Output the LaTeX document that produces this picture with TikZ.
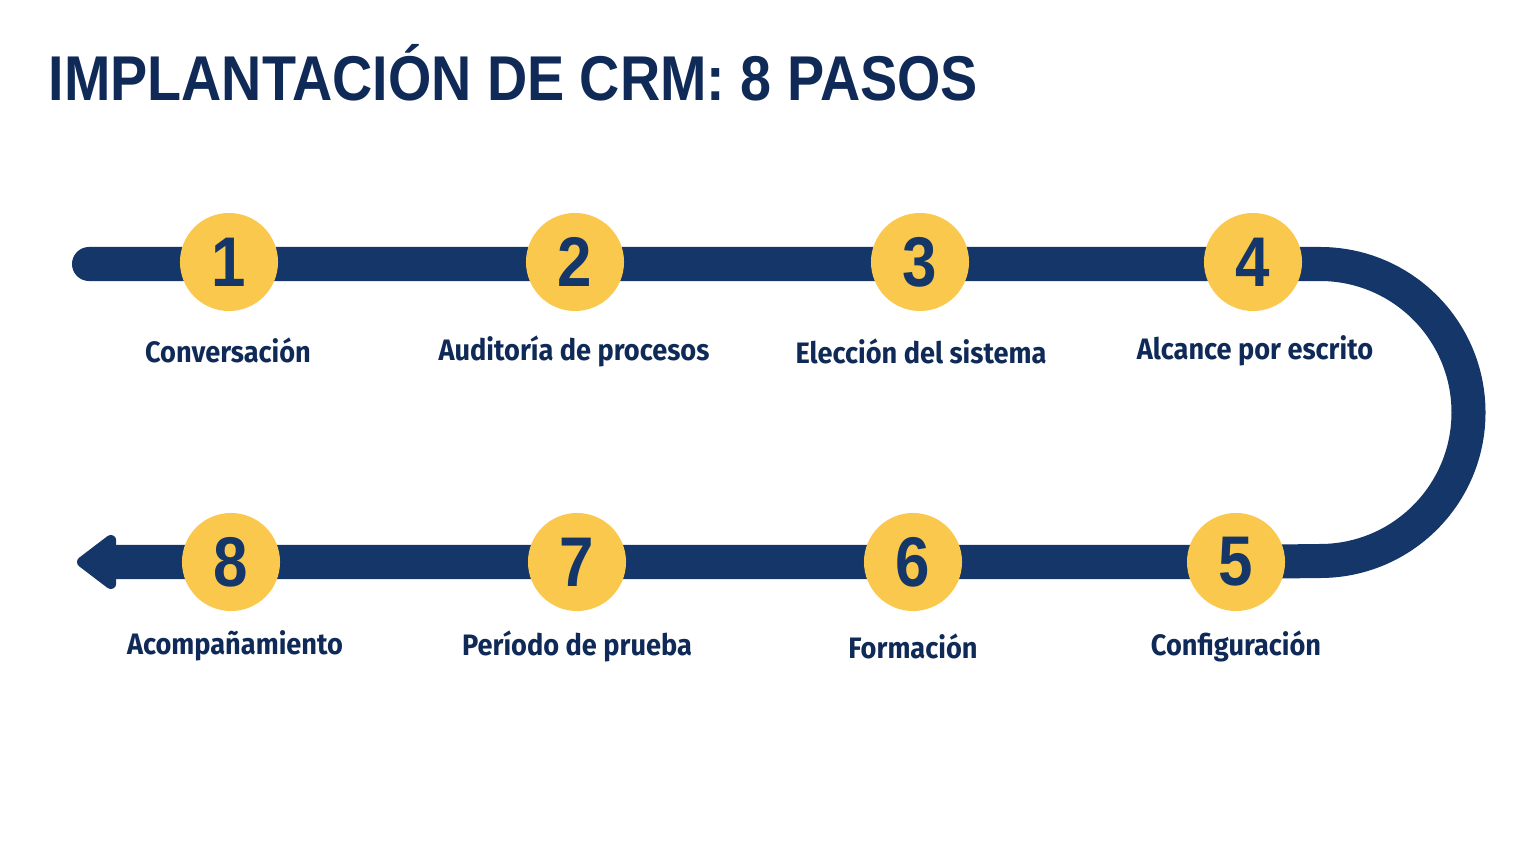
\documentclass[tikz,border=0pt]{standalone}
\usepackage{fontspec}
\setmainfont{Liberation Sans}
\newfontfamily\titlefont[FakeStretch=0.88]{Liberation Sans}
\newfontfamily\labelfont[FakeStretch=0.92]{Fira Sans}
\usetikzlibrary{arrows.meta,backgrounds}
\definecolor{navy}{RGB}{20,54,104}
\definecolor{inkblue}{RGB}{16,42,88}
\definecolor{sun}{RGB}{250,200,76}
\tikzset{
    stepdot/.style={circle,fill=sun,minimum size=0.98cm,inner sep=0pt,
        text=navy,font=\titlefont\fontsize{20}{20}\selectfont\bfseries},
    steplabel/.style={text=inkblue,font=\labelfont\fontsize{8.4}{10}\selectfont\bfseries},
    track/.style={navy,line width=0.34cm,line cap=round}
}
\begin{document}
\begin{tikzpicture}[x=0.01cm,y=-0.01cm]
    \useasboundingbox (0,0) rectangle (1536,864);
    \node[anchor=base west,inner sep=0pt,text=inkblue,font=\titlefont\fontsize{18}{18}\selectfont\bfseries]
        (title) at (48,101) {IMPLANTACIÓN DE CRM: 8 PASOS};
    % steps, top row left to right, bottom row right to left
    \node[stepdot] (s1) at (229,262) {1};
    \node[stepdot] (s2) at (575,262) {2};
    \node[stepdot] (s3) at (920,262) {3};
    \node[stepdot] (s4) at (1253,262) {4};
    \node[stepdot] (s5) at (1236,562) {5};
    \node[stepdot] (s6) at (913,562) {6};
    \node[stepdot] (s7) at (577,562) {7};
    \node[stepdot] (s8) at (231,562) {8};
    \node[steplabel] (l1) at (228,350) {Conversación};
    \node[steplabel] (l2) at (574,351) {Auditoría de procesos};
    \node[steplabel] (l3) at (921,351) {Elección del sistema};
    \node[steplabel] (l4) at (1255,351) {Alcance por escrito};
    \node[steplabel] (l5) at (1236,646) {Configuración};
    \node[steplabel] (l6) at (913,646) {Formación};
    \node[steplabel] (l7) at (577,646) {Período de prueba};
    \node[steplabel] (l8) at (235,646) {Acompañamiento};
    \coordinate (start) at (89,264);
    \coordinate (turn) at (1320,264);
    \coordinate (finish) at (77,562);
    \begin{scope}[on background layer]
        \draw[track,-{Triangle[width=0.62cm,length=0.43cm,round]}]
            (start) -- (s1.center |- start) -- (s4.center |- start) -- (turn)
            arc (-90:90:148.5) -- (s5.center) -- (s6.center) -- (s7.center)
            -- (s8.center) -- (finish);
    \end{scope}
\end{tikzpicture}
\end{document}
